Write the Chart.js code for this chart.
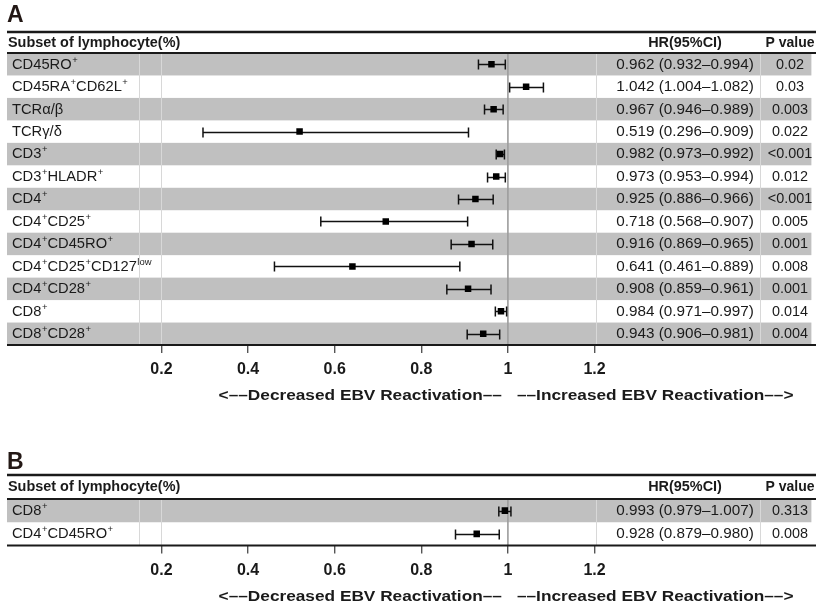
<!DOCTYPE html>
<html>
<head>
<meta charset="utf-8">
<script src="https://cdn.jsdelivr.net/npm/chart.js@4.4.1/dist/chart.umd.min.js"></script>
<style>
  html, body { margin: 0; padding: 0; background: #fff; }
  #wrap { position: relative; width: 816px; height: 606px; overflow: hidden; background: #fff; }
  canvas { position: absolute; left: 0; }
</style>
</head>
<body>
<div id="wrap">
  <canvas id="panelA" width="816" height="430" style="top:0px"></canvas>
  <canvas id="panelB" width="816" height="176" style="top:430px"></canvas>
</div>
<script>
// ---- Panel A: univariate hazard ratios ----
const subsetsA = [
  'CD45RO^{+}', 'CD45RA^{+}CD62L^{+}', 'TCRα/β', 'TCRγ/δ', 'CD3^{+}',
  'CD3^{+}HLADR^{+}', 'CD4^{+}', 'CD4^{+}CD25^{+}', 'CD4^{+}CD45RO^{+}',
  'CD4^{+}CD25^{+}CD127^{low}', 'CD4^{+}CD28^{+}', 'CD8^{+}', 'CD8^{+}CD28^{+}'
];
const hrA    = [0.962, 1.042, 0.967, 0.519, 0.982, 0.973, 0.925, 0.718, 0.916, 0.641, 0.908, 0.984, 0.943];
const lowerA = [0.932, 1.004, 0.946, 0.296, 0.973, 0.953, 0.886, 0.568, 0.869, 0.461, 0.859, 0.971, 0.906];
const upperA = [0.994, 1.082, 0.989, 0.909, 0.992, 0.994, 0.966, 0.907, 0.965, 0.889, 0.961, 0.997, 0.981];
const pValA  = ['0.02', '0.03', '0.003', '0.022', '<0.001', '0.012', '<0.001', '0.005', '0.001', '0.008', '0.001', '0.014', '0.004'];

// ---- Panel B: multivariate hazard ratios ----
const subsetsB = ['CD8^{+}', 'CD4^{+}CD45RO^{+}'];
const hrB    = [0.993, 0.928];
const lowerB = [0.979, 0.879];
const upperB = [1.007, 0.980];
const pValB  = ['0.313', '0.008'];

// ---- shared axis ----
const tickValues = [0.2, 0.4, 0.6, 0.8, 1, 1.2];
const tickLabels = ['0.2', '0.4', '0.6', '0.8', '1', '1.2'];
const headers = ['Subset of lymphocyte(%)', 'HR(95%CI)', 'P value'];
const captions = ['<––Decreased EBV Reactivation––', '––Increased EBV Reactivation––>'];

const FONT = '"Liberation Sans", Arial, Helvetica, sans-serif';
const INK = '#1a1a1a';
const STRIPE = '#c0c0c0';

// text drawn with a horizontal stretch factor
function drawWide(ctx, text, x, y, align, sx) {
  ctx.save();
  ctx.translate(x, y);
  ctx.scale(sx, 1);
  ctx.textAlign = align;
  ctx.fillText(text, 0, 0);
  ctx.restore();
}

// text with ^{...} superscripts
function drawRich(ctx, text, x, y, size, sx) {
  const parts = text.split(/(\^\{[^}]*\})/).filter(Boolean);
  ctx.save();
  ctx.translate(x, y);
  ctx.scale(sx, 1);
  let cx = 0;
  ctx.textAlign = 'left';
  ctx.textBaseline = 'middle';
  for (const p of parts) {
    const m = p.match(/^\^\{([^}]*)\}$/);
    if (m) {
      ctx.font = `${Math.round(size * 0.62)}px ${FONT}`;
      ctx.fillText(m[1], cx + 0.5, -size * 0.33);
      cx += ctx.measureText(m[1]).width + 0.5;
    } else {
      ctx.font = `${size}px ${FONT}`;
      ctx.fillText(p, cx, 0);
      cx += ctx.measureText(p).width;
    }
  }
  ctx.restore();
}

const fmt = v => v.toFixed(3);

const forestPlugin = {
  id: 'forest',
  beforeDatasetsDraw(chart, args, o) {
    const { ctx, chartArea: a, scales: { x, y } } = chart;
    const n = o.rows.length;
    const band = (a.bottom - a.top) / n;
    ctx.save();
    // alternating row shading
    ctx.fillStyle = STRIPE;
    for (let i = 0; i < n; i += 2) {
      const cy = y.getPixelForValue(i);
      ctx.fillRect(a.left, cy - band / 2, a.right - a.left, band);
    }
    // faint column dividers
    ctx.strokeStyle = '#d8d8d8';
    ctx.lineWidth = 1;
    for (const cx of o.dividers) {
      ctx.beginPath();
      ctx.moveTo(cx + 0.5, a.top);
      ctx.lineTo(cx + 0.5, a.bottom);
      ctx.stroke();
    }
    // no-effect line at HR = 1
    const x1 = x.getPixelForValue(1);
    ctx.strokeStyle = '#9c9c9c';
    ctx.lineWidth = 1.6;
    ctx.beginPath();
    ctx.moveTo(x1, a.top);
    ctx.lineTo(x1, a.bottom);
    ctx.stroke();
    // confidence interval whiskers
    ctx.strokeStyle = '#111';
    ctx.lineWidth = 1.5;
    for (let i = 0; i < n; i++) {
      const cy = Math.round(y.getPixelForValue(i)) + 0.5;
      const xl = x.getPixelForValue(o.lower[i]);
      const xh = x.getPixelForValue(o.upper[i]);
      ctx.beginPath();
      ctx.moveTo(xl, cy); ctx.lineTo(xh, cy);
      ctx.moveTo(xl, cy - 5); ctx.lineTo(xl, cy + 5);
      ctx.moveTo(xh, cy - 5); ctx.lineTo(xh, cy + 5);
      ctx.stroke();
    }
    ctx.restore();
  },
  afterDraw(chart, args, o) {
    const { ctx, chartArea: a, scales: { x, y } } = chart;
    const n = o.rows.length;
    ctx.save();
    // panel letter
    ctx.font = `bold 23px ${FONT}`;
    ctx.textAlign = 'left';
    ctx.textBaseline = 'middle';
    ctx.fillStyle = '#231815';
    ctx.fillText(o.letter, 7, o.letterY);
    ctx.fillStyle = INK;
    // rules
    ctx.strokeStyle = '#1a1a1a';
    ctx.lineWidth = 2.5;
    ctx.beginPath(); ctx.moveTo(7, o.topRule); ctx.lineTo(816, o.topRule); ctx.stroke();
    ctx.lineWidth = 2;
    ctx.beginPath(); ctx.moveTo(7, a.top); ctx.lineTo(816, a.top); ctx.stroke();
    ctx.beginPath(); ctx.moveTo(7, a.bottom); ctx.lineTo(816, a.bottom); ctx.stroke();
    // header row
    const hy = (o.topRule + a.top) / 2 + 0.5;
    ctx.font = `bold 14px ${FONT}`;
    ctx.textBaseline = 'middle';
    drawWide(ctx, headers[0], 8, hy, 'left', 1.03);
    drawWide(ctx, headers[1], o.hrCol, hy, 'center', 1.03);
    drawWide(ctx, headers[2], o.pCol, hy, 'center', 1.0);
    // table rows
    for (let i = 0; i < n; i++) {
      const cy = y.getPixelForValue(i) + 0.5;
      drawRich(ctx, o.rows[i], 12, cy, 14, 1.05);
      ctx.font = `14px ${FONT}`;
      ctx.textBaseline = 'middle';
      drawWide(ctx, `${fmt(o.hr[i])} (${fmt(o.lower[i])}–${fmt(o.upper[i])})`, o.hrCol, cy, 'center', 1.09);
      drawWide(ctx, o.p[i], o.pCol, cy, 'center', 1.03);
    }
    // direction captions
    const x1 = x.getPixelForValue(1);
    ctx.font = `bold 15px ${FONT}`;
    ctx.textBaseline = 'middle';
    drawWide(ctx, captions[0], x1 - 6, a.bottom + o.captionOffset, 'right', 1.15);
    drawWide(ctx, captions[1], x1 + 9, a.bottom + o.captionOffset, 'left', 1.15);
    ctx.restore();
  }
};

function forestChart(id, rows, hr, lower, upper, p, layout) {
  return new Chart(document.getElementById(id), {
    type: 'scatter',
    data: {
      datasets: [{
        data: hr.map((v, i) => ({ x: v, y: i })),
        pointStyle: 'rect',
        pointRadius: 4.6,
        pointHoverRadius: 4.6,
        backgroundColor: '#000',
        borderWidth: 0
      }]
    },
    options: {
      responsive: false,
      animation: false,
      devicePixelRatio: 1,
      layout: { padding: { left: 7, right: 3, top: layout.top, bottom: 0 } },
      plugins: {
        legend: { display: false },
        tooltip: { enabled: false },
        forest: {
          rows, hr, lower, upper, p,
          letter: layout.letter,
          letterY: layout.letterY,
          topRule: layout.topRule,
          hrCol: 685, pCol: 790,
          dividers: [139, 161, 596, 760],
          captionOffset: 51
        }
      },
      scales: {
        x: {
          type: 'linear',
          min: -0.1565,
          max: 1.7007,
          afterBuildTicks: s => { s.ticks = tickValues.map(v => ({ value: v })); },
          afterFit: s => { s.height = layout.axisHeight; },
          ticks: {
            autoSkip: false,
            maxRotation: 0,
            padding: 7,
            color: INK,
            font: { family: FONT, size: 16, weight: 'bold' },
            callback: (v, i) => tickLabels[i]
          },
          grid: { drawOnChartArea: false, drawTicks: true, tickLength: 8, color: '#555', lineWidth: 1.4 },
          border: { display: false }
        },
        y: {
          type: 'category',
          labels: rows.map((r, i) => String(i)),
          offset: true,
          display: false
        }
      }
    },
    plugins: [forestPlugin]
  });
}

forestChart('panelA', subsetsA, hrA, lowerA, upperA, pValA,
  { letter: 'A', letterY: 16, topRule: 32, top: 53, axisHeight: 85 });
forestChart('panelB', subsetsB, hrB, lowerB, upperB, pValB,
  { letter: 'B', letterY: 33, topRule: 45, top: 69, axisHeight: 60.5 });
</script>
</body>
</html>
